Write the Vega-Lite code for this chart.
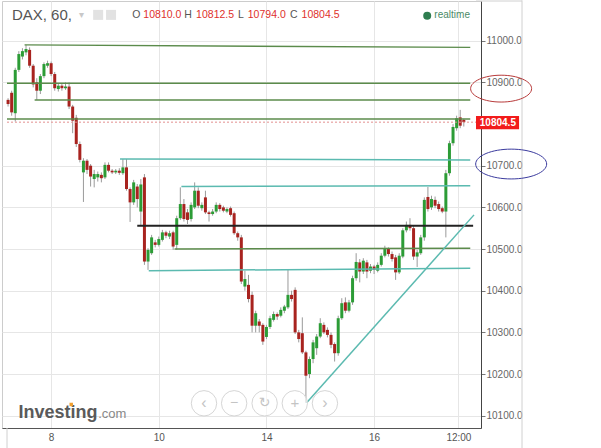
{
"$schema":"https://vega.github.io/schema/vega-lite/v6.json",
"width":479,"height":427,
"autosize":{"type":"none"},
"padding":{"left":2,"top":1,"right":120,"bottom":20},
"background":"#ffffff",
"config":{"font":"Liberation Sans","view":{"stroke":"#cccccc"}},
"datasets":{
"one":[{}],
"candles":[
{"i":0,"o":10858,"h":10862,"l":10842,"c":10848},
{"i":1,"o":10875,"h":10880,"l":10820,"c":10828},
{"i":2,"o":10826,"h":10935,"l":10806,"c":10930},
{"i":3,"o":10930,"h":10975,"l":10925,"c":10968},
{"i":4,"o":10962,"h":10982,"l":10955,"c":10975},
{"i":5,"o":10972,"h":10990,"l":10965,"c":10980},
{"i":6,"o":10978,"h":10984,"l":10935,"c":10940},
{"i":7,"o":10940,"h":10944,"l":10888,"c":10895},
{"i":8,"o":10900,"h":10910,"l":10858,"c":10880},
{"i":9,"o":10880,"h":10920,"l":10872,"c":10915},
{"i":10,"o":10915,"h":10948,"l":10910,"c":10944},
{"i":11,"o":10940,"h":10952,"l":10935,"c":10946},
{"i":12,"o":10946,"h":10950,"l":10915,"c":10920},
{"i":13,"o":10920,"h":10925,"l":10880,"c":10886},
{"i":14,"o":10884,"h":10898,"l":10878,"c":10892},
{"i":15,"o":10892,"h":10896,"l":10880,"c":10886},
{"i":16,"o":10886,"h":10900,"l":10882,"c":10890},
{"i":17,"o":10890,"h":10900,"l":10836,"c":10842},
{"i":18,"o":10842,"h":10846,"l":10778,"c":10808},
{"i":19,"o":10815,"h":10822,"l":10745,"c":10752},
{"i":20,"o":10752,"h":10758,"l":10708,"c":10714},
{"i":21,"o":10684,"h":10718,"l":10613,"c":10712},
{"i":22,"o":10712,"h":10716,"l":10680,"c":10690},
{"i":23,"o":10700,"h":10704,"l":10650,"c":10674},
{"i":24,"o":10668,"h":10690,"l":10648,"c":10680},
{"i":25,"o":10672,"h":10686,"l":10662,"c":10680},
{"i":26,"o":10678,"h":10684,"l":10660,"c":10670},
{"i":27,"o":10672,"h":10708,"l":10668,"c":10702},
{"i":28,"o":10702,"h":10708,"l":10684,"c":10688},
{"i":29,"o":10688,"h":10692,"l":10680,"c":10684},
{"i":30,"o":10684,"h":10692,"l":10680,"c":10688},
{"i":31,"o":10688,"h":10694,"l":10678,"c":10683},
{"i":32,"o":10682,"h":10716,"l":10678,"c":10696},
{"i":33,"o":10696,"h":10716,"l":10640,"c":10644},
{"i":34,"o":10644,"h":10648,"l":10565,"c":10612},
{"i":35,"o":10612,"h":10666,"l":10606,"c":10660},
{"i":36,"o":10650,"h":10656,"l":10600,"c":10620},
{"i":37,"o":10590,"h":10668,"l":10555,"c":10655},
{"i":38,"o":10672,"h":10680,"l":10462,"c":10470},
{"i":39,"o":10470,"h":10502,"l":10450,"c":10498},
{"i":40,"o":10490,"h":10534,"l":10486,"c":10528},
{"i":41,"o":10516,"h":10522,"l":10504,"c":10510},
{"i":42,"o":10510,"h":10530,"l":10506,"c":10524},
{"i":43,"o":10522,"h":10546,"l":10518,"c":10540},
{"i":44,"o":10540,"h":10544,"l":10526,"c":10532},
{"i":45,"o":10530,"h":10544,"l":10524,"c":10538},
{"i":46,"o":10540,"h":10544,"l":10498,"c":10506},
{"i":47,"o":10510,"h":10580,"l":10498,"c":10574},
{"i":48,"o":10574,"h":10648,"l":10570,"c":10608},
{"i":49,"o":10608,"h":10620,"l":10566,"c":10572},
{"i":50,"o":10588,"h":10596,"l":10560,"c":10570},
{"i":51,"o":10572,"h":10612,"l":10566,"c":10606},
{"i":52,"o":10600,"h":10660,"l":10596,"c":10640},
{"i":53,"o":10640,"h":10648,"l":10598,"c":10604},
{"i":54,"o":10598,"h":10612,"l":10592,"c":10606},
{"i":55,"o":10624,"h":10640,"l":10584,"c":10588},
{"i":56,"o":10588,"h":10592,"l":10566,"c":10584},
{"i":57,"o":10584,"h":10596,"l":10580,"c":10590},
{"i":58,"o":10590,"h":10612,"l":10586,"c":10606},
{"i":59,"o":10606,"h":10610,"l":10590,"c":10596},
{"i":60,"o":10600,"h":10604,"l":10588,"c":10592},
{"i":61,"o":10590,"h":10600,"l":10586,"c":10596},
{"i":62,"o":10598,"h":10602,"l":10578,"c":10582},
{"i":63,"o":10586,"h":10590,"l":10534,"c":10538},
{"i":64,"o":10538,"h":10542,"l":10520,"c":10528},
{"i":65,"o":10528,"h":10534,"l":10416,"c":10422},
{"i":66,"o":10410,"h":10448,"l":10400,"c":10428},
{"i":67,"o":10414,"h":10438,"l":10372,"c":10380},
{"i":68,"o":10390,"h":10398,"l":10300,"c":10316},
{"i":69,"o":10316,"h":10352,"l":10300,"c":10346},
{"i":70,"o":10326,"h":10332,"l":10300,"c":10316},
{"i":71,"o":10318,"h":10322,"l":10270,"c":10278},
{"i":72,"o":10289,"h":10318,"l":10284,"c":10313},
{"i":73,"o":10313,"h":10340,"l":10308,"c":10334},
{"i":74,"o":10330,"h":10350,"l":10326,"c":10344},
{"i":75,"o":10344,"h":10348,"l":10330,"c":10338},
{"i":76,"o":10340,"h":10360,"l":10336,"c":10354},
{"i":77,"o":10352,"h":10366,"l":10346,"c":10362},
{"i":78,"o":10360,"h":10450,"l":10356,"c":10390},
{"i":79,"o":10390,"h":10400,"l":10374,"c":10380},
{"i":80,"o":10402,"h":10408,"l":10296,"c":10300},
{"i":81,"o":10300,"h":10306,"l":10276,"c":10284},
{"i":82,"o":10298,"h":10336,"l":10248,"c":10252},
{"i":83,"o":10252,"h":10256,"l":10131,"c":10196},
{"i":84,"o":10200,"h":10242,"l":10190,"c":10236},
{"i":85,"o":10236,"h":10282,"l":10226,"c":10276},
{"i":86,"o":10262,"h":10296,"l":10246,"c":10290},
{"i":87,"o":10290,"h":10334,"l":10286,"c":10322},
{"i":88,"o":10318,"h":10324,"l":10296,"c":10300},
{"i":89,"o":10306,"h":10312,"l":10288,"c":10294},
{"i":90,"o":10294,"h":10300,"l":10262,"c":10270},
{"i":91,"o":10272,"h":10276,"l":10230,"c":10250},
{"i":92,"o":10250,"h":10340,"l":10244,"c":10334},
{"i":93,"o":10334,"h":10382,"l":10330,"c":10370},
{"i":94,"o":10372,"h":10384,"l":10346,"c":10352},
{"i":95,"o":10352,"h":10378,"l":10348,"c":10372},
{"i":96,"o":10372,"h":10436,"l":10366,"c":10430},
{"i":97,"o":10430,"h":10490,"l":10424,"c":10469},
{"i":98,"o":10468,"h":10476,"l":10420,"c":10446},
{"i":99,"o":10446,"h":10478,"l":10440,"c":10472},
{"i":100,"o":10468,"h":10474,"l":10430,"c":10446},
{"i":101,"o":10448,"h":10464,"l":10442,"c":10458},
{"i":102,"o":10458,"h":10462,"l":10440,"c":10450},
{"i":103,"o":10448,"h":10468,"l":10444,"c":10462},
{"i":104,"o":10462,"h":10490,"l":10458,"c":10484},
{"i":105,"o":10484,"h":10508,"l":10480,"c":10500},
{"i":106,"o":10500,"h":10504,"l":10482,"c":10488},
{"i":107,"o":10488,"h":10494,"l":10470,"c":10476},
{"i":108,"o":10480,"h":10486,"l":10426,"c":10444},
{"i":109,"o":10444,"h":10490,"l":10440,"c":10484},
{"i":110,"o":10482,"h":10550,"l":10478,"c":10545},
{"i":111,"o":10545,"h":10566,"l":10540,"c":10558},
{"i":112,"o":10558,"h":10574,"l":10544,"c":10550},
{"i":113,"o":10550,"h":10556,"l":10474,"c":10482},
{"i":114,"o":10482,"h":10498,"l":10457,"c":10492},
{"i":115,"o":10490,"h":10534,"l":10486,"c":10528},
{"i":116,"o":10528,"h":10624,"l":10520,"c":10618},
{"i":117,"o":10625,"h":10649,"l":10590,"c":10596},
{"i":118,"o":10600,"h":10628,"l":10594,"c":10620},
{"i":119,"o":10618,"h":10626,"l":10598,"c":10604},
{"i":120,"o":10608,"h":10614,"l":10590,"c":10596},
{"i":121,"o":10598,"h":10602,"l":10586,"c":10590},
{"i":122,"o":10590,"h":10690,"l":10528,"c":10682},
{"i":123,"o":10682,"h":10760,"l":10676,"c":10754},
{"i":124,"o":10754,"h":10800,"l":10748,"c":10793},
{"i":125,"o":10790,"h":10820,"l":10784,"c":10814},
{"i":126,"o":10816,"h":10834,"l":10790,"c":10796},
{"i":127,"o":10810,"h":10812.5,"l":10794,"c":10804.5}
],
"lines":[
{"x1":4.6,"x2":128.8,"p1":10990,"p2":10984,"kind":"green"},
{"x1":-0.3,"x2":128.8,"p1":10898,"p2":10898,"kind":"green"},
{"x1":7.4,"x2":128.8,"p1":10858,"p2":10858,"kind":"green"},
{"x1":-0.3,"x2":128.8,"p1":10812,"p2":10812,"kind":"green"},
{"x1":31.2,"x2":128.8,"p1":10716,"p2":10714,"kind":"teal"},
{"x1":48.3,"x2":128.8,"p1":10650,"p2":10652,"kind":"teal"},
{"x1":36.0,"x2":129.6,"p1":10556,"p2":10556,"kind":"black"},
{"x1":46.4,"x2":128.8,"p1":10500,"p2":10502,"kind":"green"},
{"x1":39.2,"x2":128.8,"p1":10448,"p2":10454,"kind":"teal"},
{"x1":83.2,"x2":129.85,"p1":10131,"p2":10582,"kind":"teal"}
]
},
"layer":[
{"data":{"name":"candles"},"mark":{"type":"rule","color":"#9a9a9a","strokeWidth":1},
 "encoding":{
  "x":{"field":"i","type":"quantitative","title":null,"scale":{"domain":[-0.3,130.4],"nice":false,"zero":false},
   "axis":{"values":[12,42,72,102,125.5],"labelExpr":"datum.value == 12 ? '8' : datum.value == 42 ? '10' : datum.value == 72 ? '14' : datum.value == 102 ? '16' : '12:00'","grid":true,"gridColor":"#e6e6e6","ticks":false,"domainColor":"#555555","labelColor":"#555555","labelFontSize":10,"labelPadding":4,"labelFlush":false}},
  "y":{"field":"l","type":"quantitative","title":null,"scale":{"domain":[10070.5,11095.3],"nice":false,"zero":false},
   "axis":{"orient":"right","values":[10100,10200,10300,10400,10500,10600,10700,10900,11000],"format":".1f","grid":true,"gridColor":"#e6e6e6","tickSize":4,"tickColor":"#777777","domainColor":"#444444","labelColor":"#666666","labelFontSize":10,"labelPadding":1}},
  "y2":{"field":"h"}}},
{"data":{"name":"candles"},"mark":{"type":"bar","width":3},
 "encoding":{
  "x":{"field":"i","type":"quantitative","title":null},
  "y":{"field":"o","type":"quantitative","title":null},
  "y2":{"field":"c"},
  "color":{"condition":{"test":"datum.c >= datum.o","value":"#2c9c36"},"value":"#a8231f"}}},
{"data":{"name":"lines"},"mark":{"type":"rule"},
 "encoding":{
  "x":{"field":"x1","type":"quantitative","title":null},
  "x2":{"field":"x2"},
  "y":{"field":"p1","type":"quantitative","title":null},
  "y2":{"field":"p2"},
  "color":{"field":"kind","type":"nominal","scale":{"domain":["green","teal","black"],"range":["#5b8b4b","#5bbab0","#222222"]},"legend":null},
  "strokeWidth":{"condition":{"test":"datum.kind === 'black'","value":2},"value":1.5}}},
{"data":{"name":"one"},"mark":{"type":"rule","color":"#e38f8f","strokeDash":[2,2],"strokeWidth":1},
 "encoding":{"x":{"datum":-0.3},"x2":{"datum":130.4},"y":{"datum":10804.5}}},
{"data":{"name":"one"},"mark":{"type":"rule","color":"#d0d0d0","strokeWidth":1},
 "encoding":{"x":{"datum":143.22},"y":{"datum":11097},"y2":{"datum":10022}}},
{"data":{"name":"one"},"mark":{"type":"rule","color":"#d0d0d0","strokeWidth":1},
 "encoding":{"x":{"datum":-0.3},"y":{"datum":10070.5},"y2":{"datum":10022}}},
{"data":{"name":"one"},"mark":{"type":"rule","color":"#d0d0d0","strokeWidth":1},
 "encoding":{"x":{"datum":130.4},"x2":{"datum":143.22},"y":{"datum":11095.3}}},
{"data":{"name":"one"},"mark":{"type":"text","text":"DAX, 60,","align":"left","baseline":"alphabetic","fontSize":15,"color":"#555555"},
 "encoding":{"x":{"datum":1.06},"y":{"datum":11050}}},
{"data":{"name":"one"},"mark":{"type":"text","text":"▾","align":"center","baseline":"middle","fontSize":10,"color":"#c8c8c8"},
 "encoding":{"x":{"datum":20.4},"y":{"datum":11062}}},
{"data":{"name":"one"},"mark":{"type":"point","shape":"square","filled":true,"size":100,"color":"#e2e2e2","opacity":1},
 "encoding":{"x":{"datum":25.1},"y":{"datum":11062}}},
{"data":{"name":"one"},"mark":{"type":"point","shape":"square","filled":true,"size":100,"color":"#e2e2e2","opacity":1},
 "encoding":{"x":{"datum":28.7},"y":{"datum":11062}}},
{"data":{"name":"one"},"mark":{"type":"text","text":"O","align":"left","baseline":"alphabetic","fontSize":10.5,"color":"#555555"},
 "encoding":{"x":{"datum":34.6},"y":{"datum":11054}}},
{"data":{"name":"one"},"mark":{"type":"text","text":"10810.0","align":"left","baseline":"alphabetic","fontSize":10.5,"color":"#e0302c"},
 "encoding":{"x":{"datum":37.7},"y":{"datum":11054}}},
{"data":{"name":"one"},"mark":{"type":"text","text":"H","align":"left","baseline":"alphabetic","fontSize":10.5,"color":"#555555"},
 "encoding":{"x":{"datum":49.1},"y":{"datum":11054}}},
{"data":{"name":"one"},"mark":{"type":"text","text":"10812.5","align":"left","baseline":"alphabetic","fontSize":10.5,"color":"#e0302c"},
 "encoding":{"x":{"datum":52.4},"y":{"datum":11054}}},
{"data":{"name":"one"},"mark":{"type":"text","text":"L","align":"left","baseline":"alphabetic","fontSize":10.5,"color":"#555555"},
 "encoding":{"x":{"datum":64.1},"y":{"datum":11054}}},
{"data":{"name":"one"},"mark":{"type":"text","text":"10794.0","align":"left","baseline":"alphabetic","fontSize":10.5,"color":"#e0302c"},
 "encoding":{"x":{"datum":66.8},"y":{"datum":11054}}},
{"data":{"name":"one"},"mark":{"type":"text","text":"C","align":"left","baseline":"alphabetic","fontSize":10.5,"color":"#555555"},
 "encoding":{"x":{"datum":78.6},"y":{"datum":11054}}},
{"data":{"name":"one"},"mark":{"type":"text","text":"10804.5","align":"left","baseline":"alphabetic","fontSize":10.5,"color":"#e0302c"},
 "encoding":{"x":{"datum":81.8},"y":{"datum":11054}}},
{"data":{"name":"one"},"mark":{"type":"point","shape":"circle","filled":true,"size":64,"color":"#2e7d4f","opacity":1},
 "encoding":{"x":{"datum":116.8},"y":{"datum":11060}}},
{"data":{"name":"one"},"mark":{"type":"text","text":"realtime","align":"left","baseline":"alphabetic","fontSize":10,"color":"#4a8a66"},
 "encoding":{"x":{"datum":118.8},"y":{"datum":11054}}},
{"data":{"name":"one"},"mark":{"type":"rect","color":"#f21b1b"},
 "encoding":{"x":{"datum":130.4},"x2":{"datum":142.4},"y":{"datum":10819.5},"y2":{"datum":10787.5}}},
{"data":{"name":"one"},"mark":{"type":"text","text":"10804.5","align":"center","baseline":"middle","fontSize":10,"fontWeight":"bold","color":"#ffffff"},
 "encoding":{"x":{"datum":136.5},"y":{"datum":10803}}},
{"data":{"name":"one"},"mark":{"type":"point","shape":"M-1,0A1,0.44,0,1,1,1,0A1,0.44,0,1,1,-1,0Z","filled":false,"size":3721,"color":"#b83a3a","strokeWidth":1,"opacity":1},
 "encoding":{"x":{"datum":137.4},"y":{"datum":10885}}},
{"data":{"name":"one"},"mark":{"type":"point","shape":"M-1,0A1,0.42,0,1,1,1,0A1,0.42,0,1,1,-1,0Z","filled":false,"size":5041,"color":"#3b3b9e","strokeWidth":1,"opacity":1},
 "encoding":{"x":{"datum":140.2},"y":{"datum":10704}}},
{"data":{"name":"one"},"mark":{"type":"text","text":"Investing","align":"left","baseline":"alphabetic","fontSize":18,"fontWeight":"bold","color":"#5a5a5a"},
 "encoding":{"x":{"datum":2.9},"y":{"datum":10094.5}}},
{"data":{"name":"one"},"mark":{"type":"text","text":".com","align":"left","baseline":"alphabetic","fontSize":13,"color":"#888888"},
 "encoding":{"x":{"datum":25.1},"y":{"datum":10094.5}}},
{"data":{"name":"one"},"mark":{"type":"point","shape":"square","filled":true,"size":12,"color":"#f0a030","opacity":1},
 "encoding":{"x":{"datum":17.6},"y":{"datum":10127}}},
{"data":{"name":"one"},"mark":{"type":"point","shape":"circle","filled":true,"size":645,"fill":"#ffffff","fillOpacity":0.6,"stroke":"#d6d6d6","strokeWidth":1},
 "encoding":{"x":{"datum":54.6},"y":{"datum":10129.8}}},
{"data":{"name":"one"},"mark":{"type":"point","shape":"circle","filled":true,"size":645,"fill":"#ffffff","fillOpacity":0.6,"stroke":"#d6d6d6","strokeWidth":1},
 "encoding":{"x":{"datum":63.0},"y":{"datum":10129.8}}},
{"data":{"name":"one"},"mark":{"type":"point","shape":"circle","filled":true,"size":645,"fill":"#ffffff","fillOpacity":0.6,"stroke":"#d6d6d6","strokeWidth":1},
 "encoding":{"x":{"datum":71.5},"y":{"datum":10129.8}}},
{"data":{"name":"one"},"mark":{"type":"point","shape":"circle","filled":true,"size":645,"fill":"#ffffff","fillOpacity":0.6,"stroke":"#d6d6d6","strokeWidth":1},
 "encoding":{"x":{"datum":79.9},"y":{"datum":10129.8}}},
{"data":{"name":"one"},"mark":{"type":"point","shape":"circle","filled":true,"size":645,"fill":"#ffffff","fillOpacity":0.6,"stroke":"#d6d6d6","strokeWidth":1},
 "encoding":{"x":{"datum":88.3},"y":{"datum":10129.8}}},
{"data":{"name":"one"},"mark":{"type":"text","text":"‹","align":"center","baseline":"middle","fontSize":16,"color":"#c4c4c4"},
 "encoding":{"x":{"datum":54.6},"y":{"datum":10131}}},
{"data":{"name":"one"},"mark":{"type":"text","text":"−","align":"center","baseline":"middle","fontSize":14,"color":"#c4c4c4"},
 "encoding":{"x":{"datum":63.0},"y":{"datum":10131}}},
{"data":{"name":"one"},"mark":{"type":"text","text":"↻","align":"center","baseline":"middle","fontSize":14,"font":"DejaVu Sans","color":"#c4c4c4"},
 "encoding":{"x":{"datum":71.5},"y":{"datum":10131}}},
{"data":{"name":"one"},"mark":{"type":"text","text":"+","align":"center","baseline":"middle","fontSize":15,"color":"#c4c4c4"},
 "encoding":{"x":{"datum":79.9},"y":{"datum":10131}}},
{"data":{"name":"one"},"mark":{"type":"text","text":"›","align":"center","baseline":"middle","fontSize":16,"color":"#c4c4c4"},
 "encoding":{"x":{"datum":88.3},"y":{"datum":10131}}}
]
}
